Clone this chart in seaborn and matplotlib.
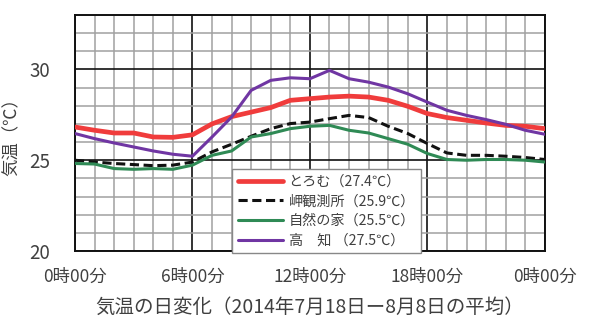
import numpy as np
import pandas as pd
import matplotlib
matplotlib.use("Agg")
import matplotlib.pyplot as plt
import seaborn as sns
from matplotlib.ticker import MultipleLocator

# Hourly mean temperature (°C), 0:00 through the following 0:00
hours = list(range(25))
toromu = [26.83, 26.65, 26.50, 26.50, 26.28, 26.26, 26.40, 27.00, 27.40, 27.65,
          27.90, 28.30, 28.39, 28.48, 28.53, 28.48, 28.30, 27.97, 27.57, 27.35,
          27.20, 27.05, 26.92, 26.87, 26.74]
misaki = [25.00, 24.90, 24.82, 24.76, 24.70, 24.73, 24.90, 25.46, 25.88, 26.32,
          26.74, 27.02, 27.10, 27.29, 27.47, 27.35, 26.87, 26.47, 25.92, 25.40,
          25.27, 25.27, 25.22, 25.15, 25.04]
shizen = [24.82, 24.79, 24.54, 24.50, 24.54, 24.50, 24.73, 25.27, 25.51, 26.28,
          26.47, 26.74, 26.87, 26.92, 26.65, 26.50, 26.19, 25.88, 25.37, 25.04,
          25.00, 25.04, 25.04, 25.00, 24.90]
kochi = [26.47, 26.19, 25.95, 25.73, 25.51, 25.33, 25.22, 26.28, 27.38, 28.85,
         29.40, 29.54, 29.49, 29.95, 29.49, 29.30, 29.03, 28.66, 28.20, 27.75,
         27.47, 27.24, 26.98, 26.65, 26.43]

labels = ["とろむ（27.4℃）", "岬観測所（25.9℃）", "自然の家（25.5℃）", "高　知 （27.5℃）"]
colors = ["#f03c3c", "#111111", "#2f8a55", "#7036a3"]
widths = [3.4, 2.2, 2.2, 2.2]
dashes = [None, (3, 1.5), None, None]
xtick_labels = ["0時00分", "6時00分", "12時00分", "18時00分", "0時00分"]

df = pd.concat([
    pd.DataFrame({"hour": hours, "temp": vals, "site": lab})
    for vals, lab in zip([toromu, misaki, shizen, kochi], labels)
])

sns.set_style("white")
plt.rcParams["font.family"] = ["Noto Sans CJK JP", "DejaVu Sans"]
text_color = "#404040"

fig = plt.figure(figsize=(6.0, 3.31), dpi=100)
ax = fig.add_axes([0.125, 0.2417, 0.783, 0.713])

for lab, c, lw in zip(labels, colors, widths):
    sub = df[df["site"] == lab]
    sns.lineplot(data=sub, x="hour", y="temp", color=c, linewidth=lw,
                 label=lab, ax=ax, zorder=3)
for ln, d in zip(ax.get_lines(), dashes):
    if d is not None:
        ln.set_dashes(d)

ax.set_xlim(0, 24)
ax.set_ylim(20, 33)
ax.xaxis.set_minor_locator(MultipleLocator(1))
ax.yaxis.set_minor_locator(MultipleLocator(1))
ax.set_xticks([0, 6, 12, 18, 24])
ax.set_xticklabels(xtick_labels)
ax.set_yticks([20, 25, 30])

ax.grid(which="minor", color="#a0a0a0", linewidth=1.1, zorder=0)
ax.grid(which="major", color="#111111", linewidth=1.2, zorder=1)
ax.set_axisbelow(True)
for s in ax.spines.values():
    s.set_color("#111111")
    s.set_linewidth(1.4)

ax.tick_params(axis="both", which="both", length=0, colors=text_color)
ax.tick_params(axis="x", labelsize=12.5, pad=12)
ax.tick_params(axis="y", labelsize=13.5, pad=18)

ax.set_xlabel("気温の日変化（2014年7月18日ー8月8日の平均）", fontsize=14,
              color=text_color, labelpad=8)
ax.set_ylabel("気温（℃）", fontsize=12.5, color=text_color, labelpad=6)

leg = ax.legend(loc="lower left", bbox_to_anchor=(0.334, -0.01), frameon=True,
                fancybox=False, edgecolor="#888888", framealpha=1.0,
                fontsize=10.2, handlelength=3.2, borderpad=0.4,
                labelspacing=0.4, handletextpad=0.4, borderaxespad=0)
for t in leg.get_texts():
    t.set_color(text_color)
leg.set_zorder(5)

fig.savefig("out.png", dpi=100, facecolor="white")
